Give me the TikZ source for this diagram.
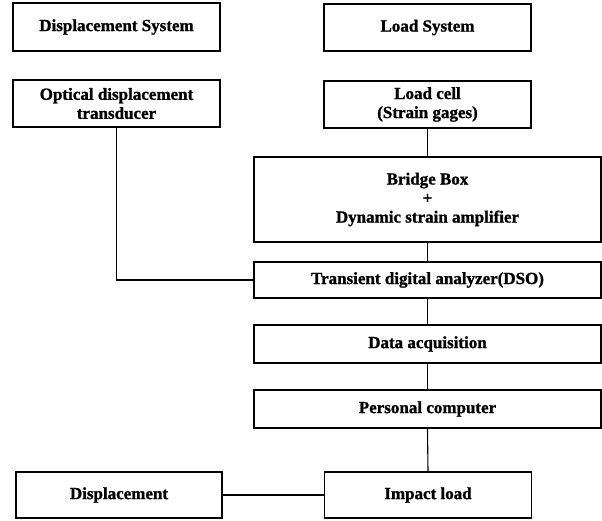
\documentclass[tikz,border=0pt]{standalone}
\usepackage{fontspec}
\setmainfont{Liberation Serif}[BoldFeatures={FakeBold=1.2}]
\begin{document}
\begin{tikzpicture}[x=1pt,y=-1pt,
  box/.style={draw, line width=1.8pt, align=center, inner sep=0pt,
    font=\bfseries\fontsize{17}{19}\selectfont},
  wbox/.style={box, minimum width=207pt},
  bbox/.style={box, minimum width=347pt},
  conn/.style={line width=1.1pt}]
\useasboundingbox (0,0) rectangle (602,520);
\node[wbox, minimum height=48pt] (ds) at (116.5,27) {Displacement System};
\node[wbox, minimum height=47pt] (ls) at (427.5,27.5) {Load System};
\node[wbox, minimum height=47pt] (od) at (116.5,103.5) {Optical displacement\\transducer};
\node[wbox, minimum height=47pt] (lc) at (427.5,104.5) {Load cell\\(Strain gages)};
\node[bbox, minimum height=85pt] (bb) at (427.5,199.5) {Bridge Box\\+\\Dynamic strain amplifier};
\node[bbox, minimum height=36pt] (dso) at (427.5,280) {Transient digital analyzer(DSO)};
\node[bbox, minimum height=38pt] (da) at (427.5,344) {Data acquisition};
\node[bbox, minimum height=38pt] (pc) at (427.5,409) {Personal computer};
\node[wbox, minimum width=206pt, minimum height=46pt] (dp) at (119,495) {Displacement};
\node[wbox, minimum height=46pt] (il) at (428,495) {Impact load};
\draw[conn] (od.south) |- (dso.west);
\draw[conn] (lc.south) -- (bb.north);
\draw[conn] (bb.south) -- (dso.north);
\draw[conn] (dso.south) -- (da.north);
\draw[conn] (da.south) -- (pc.north);
\draw[conn] (pc.south) -- (il.north);
\draw[conn] (dp.east) -- (il.west);
\end{tikzpicture}
\end{document}
